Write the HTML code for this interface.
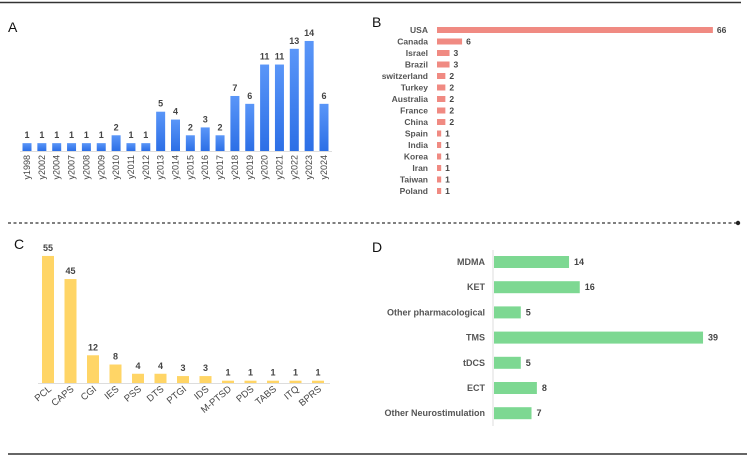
<!DOCTYPE html>
<html><head><meta charset="utf-8"><style>
body{margin:0;background:#fff;}
svg{display:block;font-family:"Liberation Sans",Arial,sans-serif;}
.v{font-size:9px;font-weight:bold;fill:#444;}
.l{font-size:8.5px;font-weight:bold;fill:#555;}
.p{font-size:14px;fill:#111;}
</style></head><body>
<svg id="s" width="749" height="457" viewBox="0 0 749 457">
<defs>
<linearGradient id="gb" x1="0" y1="0" x2="0" y2="1"><stop offset="0" stop-color="#5a96f8"/><stop offset="1" stop-color="#2c6fe6"/></linearGradient>
</defs>
<line x1="0" y1="2.5" x2="741" y2="2.5" stroke="#333" stroke-width="1.5"/>
<line x1="8" y1="223" x2="737" y2="223" stroke="#333" stroke-width="1.2" stroke-dasharray="3,2.5"/>
<circle cx="738" cy="223" r="2.2" fill="#222"/>
<line x1="8" y1="454" x2="747" y2="454" stroke="#333" stroke-width="1.5"/>
<text class="p" x="8" y="32">A</text>
<text class="p" x="372" y="27">B</text>
<text class="p" x="14" y="249">C</text>
<text class="p" x="372" y="252">D</text>
<g id="A"></g><g id="B"></g><g id="C"></g><g id="D"></g>
</svg>
<script>
const yearCats=["y1998","y2002","y2004","y2007","y2008","y2009","y2010","y2011","y2012","y2013","y2014","y2015","y2016","y2017","y2018","y2019","y2020","y2021","y2022","y2023","y2024"];
const yearVals=[1,1,1,1,1,1,2,1,1,5,4,2,3,2,7,6,11,11,13,14,6];
const countryCats=["USA","Canada","Israel","Brazil","switzerland","Turkey","Australia","France","China","Spain","India","Korea","Iran","Taiwan","Poland"];
const countryVals=[66,6,3,3,2,2,2,2,2,1,1,1,1,1,1];
const scaleCats=["PCL","CAPS","CGI","IES","PSS","DTS","PTGI","IDS","M-PTSD","PDS","TABS","ITQ","BPRS"];
const scaleVals=[55,45,12,8,4,4,3,3,1,1,1,1,1];
const treatCats=["MDMA","KET","Other pharmacological","TMS","tDCS","ECT","Other Neurostimulation"];
const treatVals=[14,16,5,39,5,8,7];
const NS="http://www.w3.org/2000/svg";
function mk(p,t,a,txt){const e=document.createElementNS(NS,t);for(const k in a)e.setAttribute(k,a[k]);if(txt!==undefined)e.textContent=txt;p.appendChild(e);return e;}
// A
(function(){const g=document.getElementById('A');const x0=27,step=14.85,base=151,k=7.86;
const ax=mk(g,'line',{x1:20,y1:base+0.5,x2:332,y2:base+0.5,stroke:'#ddd'});

yearCats.forEach((c,i)=>{const cx=x0+i*step,h=yearVals[i]*k;
const r=mk(g,'rect',{x:cx-4.5,y:base-h,width:9,height:h,fill:'url(#gb)'});

const t=mk(g,'text',{class:'v','text-anchor':'middle',x:cx,y:base-h-5},yearVals[i]);

const l=mk(g,'text',{class:'l','text-anchor':'end',transform:`translate(${cx+3},${base+4}) rotate(-90)`,style:'font-weight:normal;fill:#444;font-size:9px'},c);
});})();
// B
(function(){const g=document.getElementById('B');const x0=437,k=4.18,y0=30,step=11.5;
countryCats.forEach((c,i)=>{const cy=y0+i*step,w=countryVals[i]*k;
const r=mk(g,'rect',{x:x0,y:cy-3,width:w,height:6,fill:'#f08a82'});

const t=mk(g,'text',{class:'v',x:x0+w+4,y:cy+3,style:'font-size:8.5px'},countryVals[i]);

const l=mk(g,'text',{class:'l','text-anchor':'end',x:428,y:cy+3},c);
});})();
// C
(function(){const g=document.getElementById('C');const x0=48,step=22.5,base=383,k=2.31;
const ax=mk(g,'line',{x1:38,y1:base+0.5,x2:330,y2:base+0.5,stroke:'#ddd'});

scaleCats.forEach((c,i)=>{const cx=x0+i*step,h=Math.max(scaleVals[i]*k,2);
const r=mk(g,'rect',{x:cx-6,y:base-h,width:12,height:h,fill:'#ffd566'});

const t=mk(g,'text',{class:'v','text-anchor':'middle',x:cx,y:base-h-5},scaleVals[i]);

const l=mk(g,'text',{class:'l','text-anchor':'end',transform:`translate(${cx+4},${base+7}) rotate(-40)`,style:'font-weight:normal;fill:#444;font-size:9.5px'},c);
});})();
// D
(function(){const g=document.getElementById('D');const x0=493,k=5.36,y0=262,step=25.2;
const ax=mk(g,'line',{x1:x0,y1:250,x2:x0,y2:426,stroke:'#ddd'});

treatCats.forEach((c,i)=>{const cy=y0+i*step,w=treatVals[i]*k;
const r=mk(g,'rect',{x:x0+1,y:cy-6,width:w,height:12,fill:'#7dd892'});

const t=mk(g,'text',{class:'v',x:x0+w+6,y:cy+3},treatVals[i]);

const l=mk(g,'text',{class:'l','text-anchor':'end',x:485,y:cy+3,style:'font-size:9px'},c);
});})();
</script>
</body></html>
